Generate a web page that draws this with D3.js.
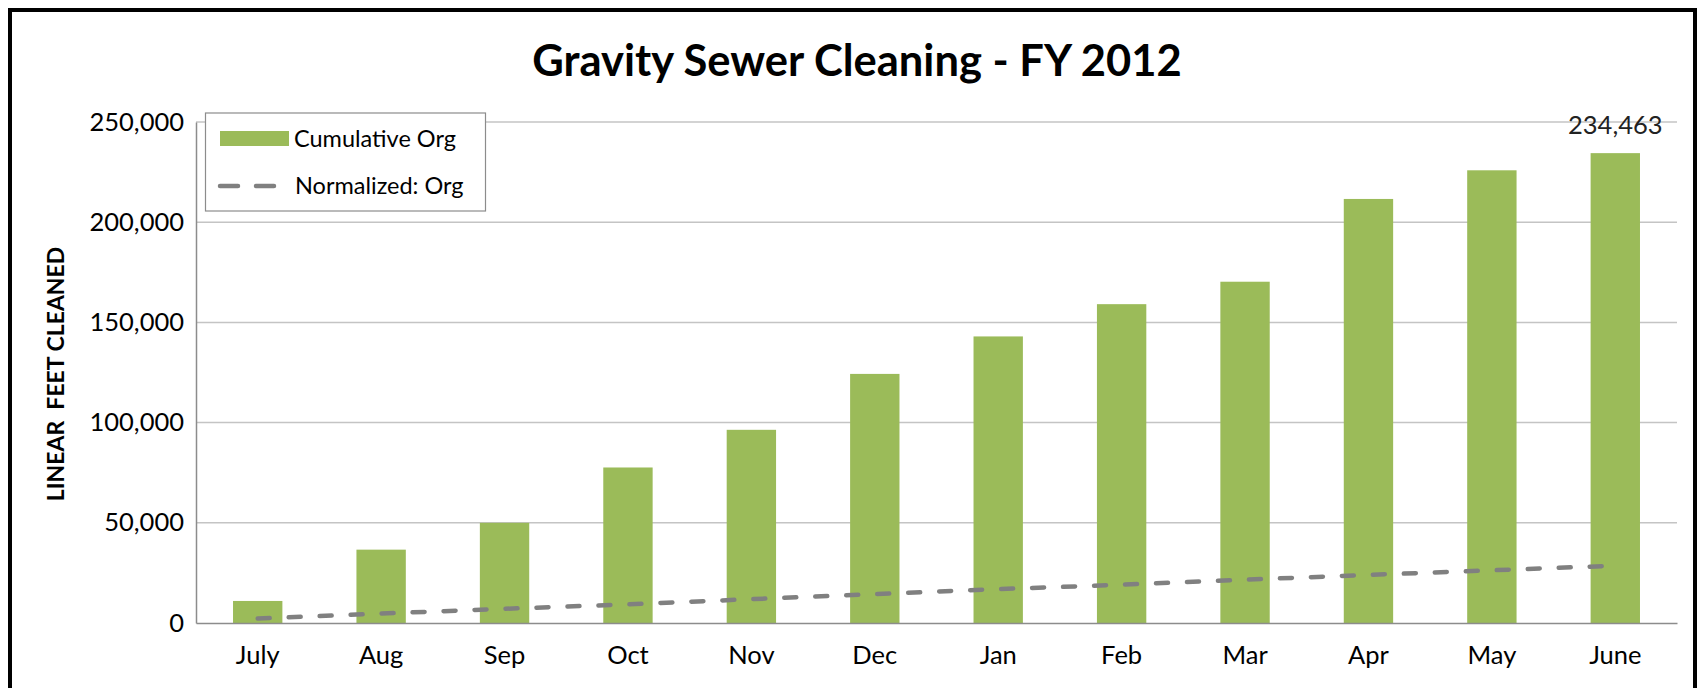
<!DOCTYPE html>
<html>
<head>
<meta charset="utf-8">
<script src="https://cdn.jsdelivr.net/npm/d3@7"></script>
<style>
	body { margin: 0; background: #fff; }
	text { font-family: Lato, "Open Sans", sans-serif; fill: #000; }
</style>
</head>
<body>
<div id="chart"></div>
<script>
// values
var months = ["July", "Aug", "Sep", "Oct", "Nov", "Dec", "Jan", "Feb", "Mar", "Apr", "May", "June"];
var cumulative = [11000, 36600, 50000, 77600, 96400, 124300, 143000, 159100, 170300, 211600, 225900, 234463];
var normalized = [2200, 4700, 7100, 9300, 11900, 14400, 16900, 19100, 21600, 24000, 26300, 28600];
var yTicks = [0, 50000, 100000, 150000, 200000, 250000];

(function(){
	var W = 1702, H = 688;
	var margin = { top: 122, right: 25, bottom: 65, left: 196 };
	var width = W - margin.left - margin.right;
	var height = H - margin.top - margin.bottom;

	var svg = d3.select("#chart")
		.append("svg")
		.attr("width", W)
		.attr("height", H);

	// outer frame, bottom edge runs off the picture
	svg.append("rect")
		.attr("x", 10).attr("y", 10)
		.attr("width", 1685).attr("height", 720)
		.attr("fill", "none")
		.attr("stroke", "#000")
		.attr("stroke-width", 4);

	svg.append("text")
		.attr("x", 857).attr("y", 76)
		.attr("text-anchor", "middle")
		.style("font-size", "43.5px")
		.style("font-weight", "bold")
		.text("Gravity Sewer Cleaning - FY 2012");

	var g = svg.append("g")
		.attr("transform", "translate(" + margin.left + "," + margin.top + ")");

	var x = d3.scaleBand()
		.domain(months)
		.range([0, width])
		.paddingInner(0.6)
		.paddingOuter(0.3);

	var y = d3.scaleLinear()
		.domain([0, 250000])
		.range([height, 0]);

	// gridlines
	g.append("g")
		.selectAll("line")
		.data(yTicks.slice(1))
		.enter().append("line")
		.attr("x1", 0).attr("x2", width)
		.attr("y1", function(d){ return y(d); })
		.attr("y2", function(d){ return y(d); })
		.attr("stroke", "#c4c4c4")
		.attr("stroke-width", 1.5);

	var yAxis = g.append("g")
		.call(d3.axisLeft(y).tickValues(yTicks).tickSize(0).tickPadding(12).tickFormat(d3.format(",")));
	yAxis.select(".domain").attr("stroke", "#8c8c8c").attr("stroke-width", 1.5);
	yAxis.selectAll("text").style("font-size", "25.5px").attr("font-family", null);

	// bars
	g.selectAll(".bar")
		.data(cumulative)
		.enter().append("rect")
		.attr("class", "bar")
		.attr("x", function(d, i){ return x(months[i]); })
		.attr("y", function(d){ return y(d); })
		.attr("width", x.bandwidth())
		.attr("height", function(d){ return height - y(d); })
		.attr("fill", "#9bbb59");

	var xAxis = g.append("g")
		.attr("transform", "translate(0," + height + ")")
		.call(d3.axisBottom(x).tickSize(0).tickPadding(23));
	xAxis.select(".domain").attr("stroke", "#8c8c8c").attr("stroke-width", 1.5);
	xAxis.selectAll("text").style("font-size", "25.5px").attr("font-family", null);

	// normalized line
	var line = d3.line()
		.x(function(d, i){ return x(months[i]) + x.bandwidth() / 2; })
		.y(function(d){ return y(d); });

	g.append("path")
		.datum(normalized)
		.attr("d", line)
		.attr("fill", "none")
		.attr("stroke", "#808080")
		.attr("stroke-width", 4.5)
		.attr("stroke-linecap", "round")
		.attr("stroke-dasharray", "12,19");

	// data label on last bar
	var last = cumulative.length - 1;
	g.append("text")
		.attr("x", x(months[last]) + x.bandwidth() / 2)
		.attr("y", y(cumulative[last]) - 19)
		.attr("text-anchor", "middle")
		.style("font-size", "25.5px")
		.style("fill", "#222")
		.text(d3.format(",")(cumulative[last]));

	// y axis title
	svg.append("text")
		.attr("transform", "translate(64,374) rotate(-90)")
		.attr("text-anchor", "middle")
		.style("font-size", "23px")
		.style("font-weight", "bold")
		.text("LINEAR\u00a0 FEET CLEANED");

	// legend
	var leg = svg.append("g");
	leg.append("rect")
		.attr("x", 205.5).attr("y", 113)
		.attr("width", 280).attr("height", 98)
		.attr("fill", "#fff")
		.attr("stroke", "#8c8c8c")
		.attr("stroke-width", 1.2);
	leg.append("rect")
		.attr("x", 220).attr("y", 131)
		.attr("width", 69).attr("height", 15)
		.attr("fill", "#9bbb59");
	leg.append("text")
		.attr("x", 294).attr("y", 147)
		.style("font-size", "23.5px")
		.text("Cumulative Org");
	leg.append("line")
		.attr("x1", 220).attr("x2", 276)
		.attr("y1", 186).attr("y2", 186)
		.attr("stroke", "#808080")
		.attr("stroke-width", 4.5)
		.attr("stroke-linecap", "round")
		.attr("stroke-dasharray", "18,18");
	leg.append("text")
		.attr("x", 295).attr("y", 194)
		.style("font-size", "23.5px")
		.text("Normalized: Org");
})();
</script>
</body>
</html>
